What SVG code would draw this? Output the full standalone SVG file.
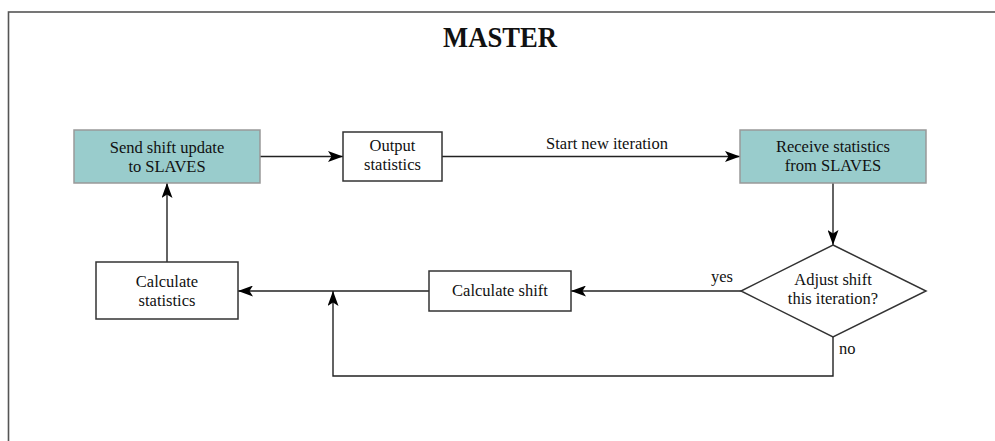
<svg xmlns="http://www.w3.org/2000/svg" width="995" height="441" viewBox="0 0 995 441">
  <defs>
    <marker id="arrow" viewBox="0 0 15 11" refX="15" refY="5.5" markerWidth="15" markerHeight="11" markerUnits="userSpaceOnUse" orient="auto">
      <path d="M0,0 L15,5.5 L0,11 L3.5,5.5 Z" fill="#000"/>
    </marker>
  </defs>
  <style>
    text { font-family: "Liberation Serif", "Times New Roman", serif; fill: #111; }
    .lbl { font-size: 16.5px; text-anchor: middle; }
    .edge-lbl { font-size: 16.5px; }
    .title { font-size: 30px; font-weight: bold; text-anchor: middle; }
    .proc { fill: #ffffff; stroke: #333; stroke-width: 1.5; }
    .comm { fill: #99cccc; stroke: #999; stroke-width: 1.5; }
    .link { fill: none; stroke: #222; stroke-width: 1.4; }
  </style>

  <rect x="0" y="0" width="995" height="441" fill="#fff"/>
  <!-- frame -->
  <rect x="8.5" y="12" width="1000" height="440" fill="none" stroke="#555" stroke-width="1.6"/>

  <text class="title" x="500" y="47" textLength="114" lengthAdjust="spacingAndGlyphs">MASTER</text>

  <g id="connectors">
    <line class="link" x1="260" y1="156.5" x2="343" y2="156.5" marker-end="url(#arrow)"/>
    <line class="link" x1="442" y1="156.5" x2="740" y2="156.5" marker-end="url(#arrow)"/>
    <line class="link" x1="833" y1="183" x2="833" y2="245" marker-end="url(#arrow)"/>
    <line class="link" x1="741" y1="291" x2="571" y2="291" marker-end="url(#arrow)"/>
    <line class="link" x1="429" y1="291" x2="238" y2="291" marker-end="url(#arrow)"/>
    <polyline class="link" points="833,337 833,376 333,376 333,291" marker-end="url(#arrow)"/>
    <line class="link" x1="167" y1="262" x2="167" y2="183" marker-end="url(#arrow)"/>
    <text class="edge-lbl" x="607" y="149" text-anchor="middle">Start new iteration</text>
    <text class="edge-lbl" x="733" y="282" text-anchor="end">yes</text>
    <text class="edge-lbl" x="839" y="354">no</text>
  </g>

  <g id="send-shift">
    <rect class="comm" x="74" y="130" width="186" height="53"/>
    <text class="lbl" x="167" y="153">Send shift update</text>
    <text class="lbl" x="167" y="172">to SLAVES</text>
  </g>

  <g id="output-stats">
    <rect class="proc" x="343" y="132" width="99" height="49"/>
    <text class="lbl" x="392.5" y="151">Output</text>
    <text class="lbl" x="392.5" y="170">statistics</text>
  </g>

  <g id="receive-stats">
    <rect class="comm" x="740" y="130" width="186" height="53"/>
    <text class="lbl" x="833" y="152">Receive statistics</text>
    <text class="lbl" x="833" y="171">from SLAVES</text>
  </g>

  <g id="adjust-decision">
    <polygon class="proc" points="833,245 926,291 833,337 741,291"/>
    <text class="lbl" x="833" y="285">Adjust shift</text>
    <text class="lbl" x="833" y="304">this iteration?</text>
  </g>

  <g id="calc-shift">
    <rect class="proc" x="429" y="271" width="142" height="40"/>
    <text class="lbl" x="500" y="296">Calculate shift</text>
  </g>

  <g id="calc-stats">
    <rect class="proc" x="96" y="262" width="142" height="57"/>
    <text class="lbl" x="167" y="287">Calculate</text>
    <text class="lbl" x="167" y="306">statistics</text>
  </g>
</svg>
